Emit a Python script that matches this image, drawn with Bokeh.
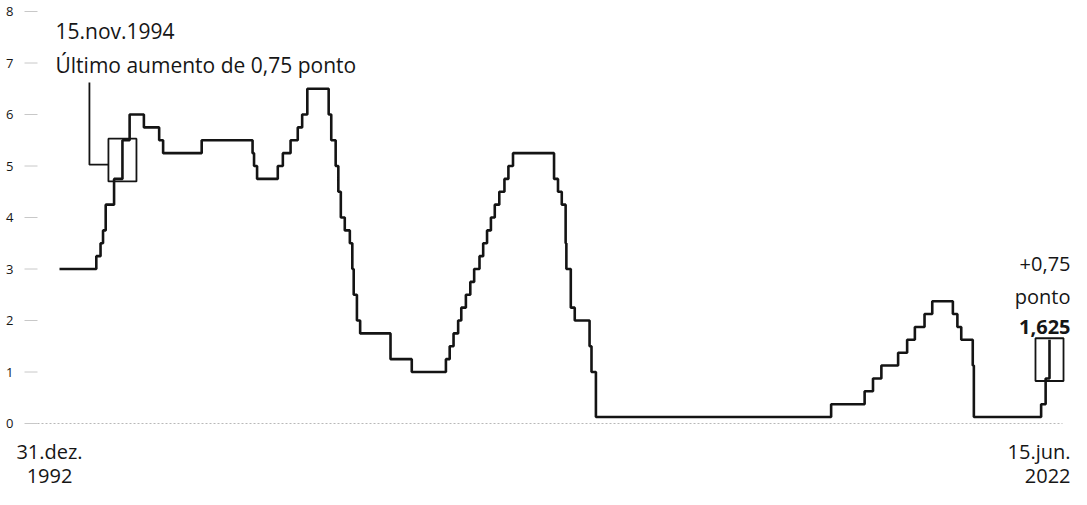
import pandas as pd
from bokeh.plotting import figure
from bokeh.models import FixedTicker, Range1d, Label
from bokeh.embed import file_html
from bokeh.resources import INLINE

# Fed funds target rate (midpoint of range after Dec 2008), %
dates = [
    "1992-12-31", "1994-02-04", "1994-03-22", "1994-04-18", "1994-05-17", "1994-08-16",
    "1994-11-15", "1995-02-01", "1995-07-06", "1995-12-19", "1996-01-31", "1997-03-25",
    "1998-09-29", "1998-10-15", "1998-11-17", "1999-06-30", "1999-08-24", "1999-11-16",
    "2000-02-02", "2000-03-21", "2000-05-16", "2001-01-03", "2001-01-31", "2001-03-20",
    "2001-04-18", "2001-05-15", "2001-06-27", "2001-08-21", "2001-09-17", "2001-10-02",
    "2001-11-06", "2001-12-11", "2002-11-06", "2003-06-25", "2004-06-30", "2004-08-10",
    "2004-09-21", "2004-11-10", "2004-12-14", "2005-02-02", "2005-03-22", "2005-05-03",
    "2005-06-30", "2005-08-09", "2005-09-20", "2005-11-01", "2005-12-13", "2006-01-31",
    "2006-03-28", "2006-05-10", "2006-06-29", "2007-09-18", "2007-10-31", "2007-12-11",
    "2008-01-22", "2008-01-30", "2008-03-18", "2008-04-30", "2008-10-08", "2008-10-29",
    "2008-12-16", "2015-12-16", "2016-12-14", "2017-03-15", "2017-06-14", "2017-12-13",
    "2018-03-21", "2018-06-13", "2018-09-26", "2018-12-19", "2019-07-31", "2019-09-18",
    "2019-10-30", "2020-03-03", "2020-03-15", "2022-03-16", "2022-05-04", "2022-06-15",
]
rates = [
    3.00, 3.25, 3.50, 3.75, 4.25, 4.75,
    5.50, 6.00, 5.75, 5.50, 5.25, 5.50,
    5.25, 5.00, 4.75, 5.00, 5.25, 5.50,
    5.75, 6.00, 6.50, 6.00, 5.50, 5.00,
    4.50, 4.00, 3.75, 3.50, 3.00, 2.50,
    2.00, 1.75, 1.25, 1.00, 1.25, 1.50,
    1.75, 2.00, 2.25, 2.50, 2.75, 3.00,
    3.25, 3.50, 3.75, 4.00, 4.25, 4.50,
    4.75, 5.00, 5.25, 4.75, 4.50, 4.25,
    3.50, 3.00, 2.25, 2.00, 1.50, 1.00,
    0.125, 0.375, 0.625, 0.875, 1.125, 1.375,
    1.625, 1.875, 2.125, 2.375, 2.125, 1.875,
    1.625, 1.125, 0.125, 0.375, 0.875, 1.625,
]
y_ticks = [0, 1, 2, 3, 4, 5, 6, 7, 8]
start_label = ["31.dez.", "1992"]
end_label = ["15.jun.", "2022"]
note_left = ["15.nov.1994", "Último aumento de 0,75 ponto"]
note_right = ["+0,75", "ponto", "1,625"]
highlight_steps = ["1994-11-15", "2022-06-15"]

INK = "#161616"
LINE = "#141414"
FONT = "Open Sans"
YEAR = 365.25 * 86400 * 1000.0

t = pd.to_datetime(dates)
ms = [(d - pd.Timestamp(0)).total_seconds() * 1000.0 for d in t]

W, H = 1071, 489
left_border = 13
x0_px, x1_px = 59.0, 1049.0          # screen x of first and last date
k = (x1_px - x0_px) / (ms[-1] - ms[0])


def px_to_x(px):
    return ms[0] + (px - x0_px) / k


x_start = px_to_x(left_border)
x_end = px_to_x(W)
unit = 51.5
zero_y = 423.0
y_start = -(H - zero_y) / unit
y_end = 8 + (zero_y - 8 * unit) / unit

p = figure(width=W, height=H, x_range=Range1d(x_start, x_end), y_range=Range1d(y_start, y_end),
           x_axis_type=None, toolbar_location=None, output_backend="svg",
           min_border_left=left_border, min_border_right=0, min_border_top=0, min_border_bottom=0,
           outline_line_color=None, background_fill_color="white", border_fill_color="white")
p.grid.visible = False

ax = p.yaxis[0]
ax.ticker = FixedTicker(ticks=y_ticks)
ax.axis_line_color = None
ax.major_tick_in = 0
ax.major_tick_out = 0
ax.major_tick_line_color = None
ax.minor_tick_line_color = None
ax.major_label_standoff = 0
ax.major_label_text_font = FONT
ax.major_label_text_font_size = "13px"
ax.major_label_text_color = INK

# faint tick dashes next to the labels and dotted zero line
p.segment(x0=[px_to_x(24)] * len(y_ticks), x1=[px_to_x(37)] * len(y_ticks), y0=y_ticks, y1=y_ticks,
          line_color="#c8c8c8", line_width=1)
p.segment(x0=[px_to_x(37)], x1=[px_to_x(1062)], y0=[0], y1=[0],
          line_color="#b8b8b8", line_width=1, line_dash="2 2")

p.step(x=ms, y=rates, mode="after", line_color=LINE, line_width=2.6)

# highlight boxes around the two 0.75-point rises
half_w = 0.417 * YEAR
boxes = []
for d in highlight_steps:
    i = dates.index(d)
    boxes.append((ms[i] - half_w, ms[i] + half_w, rates[i - 1] - 0.05, rates[i] + 0.03))
p.quad(left=[b[0] for b in boxes], right=[b[1] for b in boxes],
       bottom=[b[2] for b in boxes], top=[b[3] for b in boxes],
       fill_color=None, line_color=LINE, line_width=1.8)

# leader line for the 1994 note
i1 = dates.index(highlight_steps[0])
lx = boxes[0][0] - 19.0 / k
ly = (rates[i1 - 1] + rates[i1]) / 2 - 0.1
p.line(x=[lx, lx, boxes[0][0]], y=[6.62, ly, ly], line_color=LINE, line_width=1.8)


def label(x, y, text, size="20px", align="left", xo=0, yo=0, style="normal"):
    p.add_layout(Label(x=x, y=y, text=text, text_font=FONT, text_font_size=size,
                       text_font_style=style, text_color=INK, text_align=align,
                       text_baseline="middle", x_offset=xo, y_offset=yo))


label(ms[0], 7.63, note_left[0], size="21px", xo=-4)
label(ms[0], 6.96, note_left[1], size="21px", xo=-4)

top2 = boxes[1][3]
label(ms[-1], top2, note_right[0], align="right", xo=21, yo=74)
label(ms[-1], top2, note_right[1], align="right", xo=21, yo=42)
label(ms[-1], top2, note_right[2], align="right", xo=21, yo=11, style="bold")

# end labels under the baseline
for j, off in enumerate([28, 52]):
    label(ms[0], 0, start_label[j], align="center", xo=-10, yo=-off)
    label(ms[-1], 0, end_label[j], align="right", xo=21, yo=-off)

open("out.html", "w").write(file_html(p, INLINE))
